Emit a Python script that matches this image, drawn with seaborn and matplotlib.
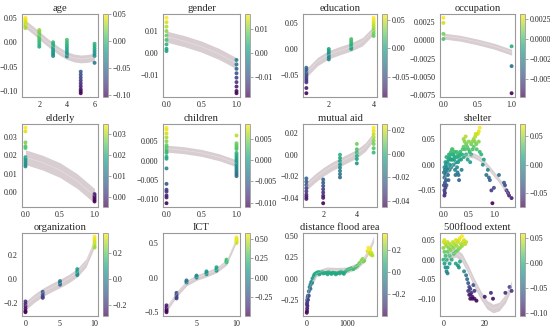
import numpy as np
import pandas as pd
import matplotlib
matplotlib.use("Agg")
import matplotlib.pyplot as plt
import seaborn as sns

# ---- data ------------------------------------------------------------------
titles = ['age', 'gender', 'education', 'occupation',
          'elderly', 'children', 'mutual aid', 'shelter',
          'organization', 'ICT', 'distance flood area', '500flood extent']

# discrete features: x value -> SHAP values seen at that x
age_pts = {1: [0.05, 0.047, 0.044, 0.041, 0.038, 0.035, 0.032, 0.029],
           2: [0.025, 0.021, 0.017, 0.013, 0.009, 0.005, 0.001, -0.004, -0.009],
           3: [0.0, -0.004, -0.008, -0.012, -0.016, -0.02, -0.024, -0.028],
           4: [0.005, 0.0, -0.005, -0.01, -0.015, -0.02, -0.025, -0.029],
           5: [-0.06, -0.066, -0.072, -0.078, -0.084, -0.09, -0.096, -0.1, -0.104],
           6: [-0.003, -0.008, -0.013, -0.018, -0.023, -0.028, -0.042]}
gender_pts = {0: [0.016, 0.014, 0.012, 0.01, 0.008, 0.006, 0.004, 0.002, 0.001],
              1: [-0.003, -0.005, -0.007, -0.009, -0.011, -0.013, -0.015, -0.017, -0.018]}
education_pts = {1: [-0.036, -0.04, -0.044, -0.048, -0.052, -0.056, -0.06, -0.064, -0.075, -0.085],
                 2: [0.0, -0.004, -0.008, -0.012, -0.016, -0.02],
                 3: [0.019, 0.015, 0.011, 0.007, 0.003, 0.0],
                 4: [0.06, 0.055, 0.05, 0.045, 0.04, 0.035, 0.03, 0.025]}
occupation_pts = {0: [0.0031, 0.0024, 0.0009, 0.0002],
                  1: [-0.0008, -0.0035, -0.0072]}
elderly_pts = {0: [0.035, 0.033, 0.027, 0.025, 0.024, 0.019, 0.018, 0.017, 0.016, 0.015, 0.014],
               1: [-0.001, -0.002, -0.003, -0.004, -0.005]}
children_pts = {0: [0.0085, 0.008, 0.007, 0.006, 0.005, 0.004, 0.0035, 0.003, 0.0025, 0.002,
                    0.001, 0.0005, -0.002, -0.006, -0.0075, -0.008, -0.009, -0.0095, -0.011],
                1: [0.0065, 0.0045, 0.004, 0.0035, 0.003, 0.002, 0.0015, 0.001, 0.0005, 0.0,
                    -0.0005, -0.001, -0.0015, -0.002, -0.0025, -0.003, -0.0035, -0.004]}
mutual_pts = {1: [-0.022, -0.025, -0.028, -0.031, -0.034, -0.037, -0.039, -0.041],
              2: [-0.023, -0.026, -0.029, -0.032, -0.035, -0.038, -0.04, -0.045],
              3: [0.0, -0.003, -0.006, -0.009, -0.012, -0.015, -0.018, -0.021],
              4: [0.01, 0.005, 0.002, -0.001, -0.004, -0.008],
              5: [0.025, 0.022, 0.019, 0.016, 0.013, 0.01, 0.006, 0.002]}
organization_pts = {0: [-0.19, -0.21, -0.23, -0.25, -0.27, -0.28],
                    2.5: [-0.11, -0.13, -0.15, -0.16],
                    5: [-0.02, -0.035, -0.05],
                    7.5: [0.08, 0.06, 0.04, 0.03],
                    10: [0.35, 0.33, 0.31, 0.29, 0.27, 0.26]}
ict_pts = {1.25: [-0.4, -0.43, -0.46, -0.48, -0.5],
           2.5: [-0.22, -0.25, -0.28, -0.3],
           3.75: [-0.04, -0.055, -0.07],
           5: [0.03, 0.015, 0.0],
           6.25: [0.09, 0.07, 0.05],
           7.5: [0.15, 0.125, 0.1],
           8.75: [0.26, 0.24, 0.22],
           10: [0.58, 0.56, 0.54, 0.52, 0.5]}

# continuous features
shelter_x = [0.02, 0.03, 0.02, 0.04, 0.01, 0.03, 0.05, 0.02, 0.04, 0.06, 0.03, 0.07, 0.05, 0.08,
             0.10, 0.09, 0.10, 0.06, 0.08, 0.12, 0.14, 0.15, 0.17, 0.18, 0.20, 0.20, 0.22, 0.23,
             0.24, 0.25, 0.26, 0.27, 0.28, 0.29, 0.30, 0.31, 0.32, 0.33, 0.12, 0.15, 0.18, 0.13,
             0.16, 0.21, 0.35, 0.37, 0.38, 0.40, 0.40, 0.42, 0.43, 0.45, 0.45, 0.47, 0.50, 0.50,
             0.52, 0.55, 0.55, 0.58, 0.60, 0.60, 0.62, 0.63, 0.65, 0.66, 0.68, 0.70, 0.72, 0.70,
             0.72, 0.75, 0.40, 0.44, 0.48, 0.53, 0.36, 0.78, 0.80, 0.85, 0.88, 0.90, 0.92, 0.95,
             0.97, 1.00, 1.10, 1.20, 1.22, 1.25, 1.28, 1.30, 1.35,
             0.01, 0.02, 0.04, 0.06, 0.11, 0.14, 0.19, 0.22, 0.26, 0.29, 0.31, 0.34, 0.57, 0.64]
shelter_y = [-0.06, -0.055, -0.05, -0.045, -0.04, -0.035, -0.03, -0.025, -0.02, -0.015, -0.01,
             -0.005, 0.0, 0.005, 0.01, -0.02, -0.03, -0.04, -0.01, 0.015, 0.02, 0.025, 0.03, 0.01,
             0.0, 0.02, 0.025, -0.01, -0.02, 0.005, 0.015, -0.005, -0.015, 0.02, -0.02, -0.03,
             0.01, 0.025, -0.01, -0.005, 0.03, 0.0, 0.01, 0.01, 0.01, 0.02, 0.03, 0.035, 0.05,
             0.045, 0.03, 0.02, 0.04, 0.035, 0.03, 0.045, 0.025, 0.04, 0.02, 0.03, 0.035, 0.05,
             0.045, 0.055, 0.04, 0.03, 0.06, 0.065, 0.072, 0.045, 0.025, 0.02, 0.015, 0.055,
             0.01, 0.005, -0.01, 0.0, 0.01, -0.02, -0.01, -0.025, -0.03, -0.05, -0.075, -0.045,
             -0.02, -0.035, -0.04, -0.05, -0.055, -0.06, -0.065,
             -0.015, -0.005, 0.005, 0.015, 0.02, 0.01, 0.02, 0.015, 0.025, 0.005, 0.015, 0.02,
             0.045, 0.06]
distance_x = [10, 15, 20, 25, 15, 20, 20, 30, 40, 60, 80, 100, 120, 150, 180, 200, 230, 260,
              300, 350, 400, 450, 500, 550, 600, 650, 700, 750, 800, 850, 900, 950, 1000, 1050,
              1100, 1150, 1200, 1250, 1300, 1350, 1380, 1400, 1420, 1500, 1520, 1550, 1580,
              1600, 1620, 1560, 60, 100, 140, 40, 320, 420, 520, 620, 720, 820, 920]
distance_y = [-0.4, -0.38, -0.35, -0.32, -0.3, -0.28, -0.25, -0.22, -0.2, -0.15, -0.1, -0.07,
              -0.04, 0.0, 0.03, 0.05, 0.06, 0.07, 0.075, 0.07, 0.075, 0.065, 0.07, 0.075, 0.06,
              0.07, 0.065, 0.06, 0.07, 0.08, 0.065, 0.08, 0.1, 0.11, 0.12, 0.11, 0.13, 0.15,
              0.18, 0.21, 0.23, 0.2, 0.21, 0.32, 0.36, 0.3, 0.28, 0.3, 0.27, 0.34, -0.2, -0.12,
              -0.05, -0.25, 0.05, 0.06, 0.05, 0.055, 0.05, 0.06, 0.055]
flood_x = [0, 0, 0.5, 0.5, 1, 1, 1, 1.5, 1.5, 2, 2, 2, 2.5, 3, 3, 3, 3.5, 4, 4, 4.5, 5, 5, 5.5,
           6, 6, 6.5, 7, 7, 7.5, 8, 8, 8.5, 9, 9, 9.5, 10, 10.5, 11, 0.2, 0.5, 1.5, 2, 7, 7.5,
           8, 6, 10, 11, 11.5, 12, 12, 12.5, 13, 13, 13.5, 14, 14, 15, 16, 13, 12.5, 20, 23,
           24, 30, 32, 33, 14.5, 15]
flood_y = [0.0, 0.03, 0.02, -0.01, 0.04, 0.01, -0.02, -0.03, 0.035, 0.045, 0.02, -0.035, 0.03,
           0.04, 0.01, -0.01, 0.025, 0.035, 0.0, 0.045, 0.03, 0.015, 0.04, 0.05, 0.02, 0.035,
           0.045, 0.025, 0.05, 0.055, 0.03, 0.04, 0.06, 0.035, 0.045, 0.05, 0.04, 0.045, 0.045,
           0.05, 0.0, -0.02, -0.015, -0.02, -0.005, -0.01, -0.03, -0.04, -0.05, -0.06, -0.08,
           -0.09, -0.075, -0.1, -0.085, -0.095, -0.1, -0.1, -0.105, -0.09, -0.07, -0.095,
           -0.085, -0.1, -0.085, -0.07, -0.08, -0.065, -0.08]

# confidence band of the fitted trend: centre values and half width
band_x = [[1, 1.5, 2, 2.5, 3, 3.5, 4, 4.5, 5, 5.5, 6],
          [0, 0.25, 0.5, 0.75, 1],
          [1, 1.5, 2, 2.5, 3, 3.5, 4],
          [0, 0.25, 0.5, 0.75, 1],
          [0, 0.25, 0.5, 0.75, 1],
          [0, 0.25, 0.5, 0.75, 1],
          [1, 1.5, 2, 2.5, 3, 3.5, 4, 4.5, 5],
          [0.0, 0.1, 0.2, 0.3, 0.4, 0.5, 0.6, 0.7, 0.8, 0.9, 1.0, 1.1, 1.2, 1.3],
          [0, 1.25, 2.5, 3.75, 5, 6.25, 7.5, 8.75, 10],
          [1.25, 2.5, 3.75, 5, 6.25, 7.5, 8.75, 10],
          [0, 100, 250, 500, 750, 1000, 1250, 1400, 1500, 1650],
          [0, 3, 6, 9, 12, 15, 18, 21, 24, 27, 30, 33]]
band_y = [[0.037, 0.026, 0.014, 0.002, -0.009, -0.019, -0.027, -0.032, -0.034, -0.033, -0.03],
          [0.0075, 0.0055, 0.003, -0.0003, -0.0045],
          [-0.046, -0.024, -0.011, -0.003, 0.004, 0.014, 0.036],
          [0.0006, 0.0003, -0.0002, -0.0008, -0.0016],
          [0.019, 0.016, 0.012, 0.006, -0.002],
          [0.0031, 0.0027, 0.002, 0.0009, -0.0007],
          [-0.029, -0.022, -0.016, -0.011, -0.007, -0.003, 0.001, 0.007, 0.017],
          [-0.03, -0.012, 0.002, 0.012, 0.018, 0.02, 0.018, 0.013, 0.005, -0.006, -0.018,
           -0.03, -0.044, -0.058],
          [-0.225, -0.165, -0.115, -0.075, -0.04, 0.0, 0.05, 0.13, 0.3],
          [-0.45, -0.24, -0.08, 0.0, 0.05, 0.11, 0.22, 0.55],
          [-0.25, -0.08, 0.06, 0.1, 0.095, 0.1, 0.15, 0.22, 0.3, 0.46],
          [-0.005, 0.012, 0.018, 0.005, -0.025, -0.06, -0.09, -0.115, -0.125, -0.12, -0.1, -0.065]]
band_w = [0.008, 0.0025, 0.008, 0.0004, 0.004, 0.0009, 0.004, 0.005, 0.035, 0.04, 0.035, 0.011]

y_ticks = [[-0.10, -0.05, 0.0, 0.05], [-0.01, 0.0, 0.01], [-0.05, 0.0, 0.05],
           [-0.0075, -0.005, -0.0025, 0.0, 0.0025], [0.0, 0.01, 0.02, 0.03],
           [-0.01, -0.005, 0.0, 0.005], [-0.04, -0.02, 0.0, 0.02], [-0.05, 0.0, 0.05],
           [-0.2, 0.0, 0.2], [-0.5, 0.0, 0.5], [-0.25, 0.0, 0.25, 0.5], [-0.1, -0.05, 0.0, 0.05]]
y_fmt = ['%.2f', '%.2f', '%.2f', '%.4f', '%.2f', '%.3f', '%.2f', '%.2f', '%.1f', '%.1f', '%.2f', '%.2f']
x_ticks = [[2, 4, 6], [0.0, 0.5, 1.0], [2, 4], [0.0, 0.5, 1.0], [0.0, 0.5, 1.0], [0.0, 0.5, 1.0],
           [2, 4], [0.0, 0.5, 1.0], [0, 5, 10], [5, 10], [0, 1000], [0, 20]]
x_fmt = ['%d', '%.1f', '%d', '%.1f', '%.1f', '%.1f', '%d', '%.1f', '%d', '%d', '%d', '%d']
cb_ticks = [[-0.10, -0.05, 0.0, 0.05], [-0.01, 0.0, 0.01], [-0.05, 0.0, 0.05],
            [-0.005, -0.0025, 0.0, 0.0025], [0.0, 0.01, 0.02, 0.03], [-0.01, -0.005, 0.0, 0.005],
            [-0.04, -0.02, 0.0, 0.02], [-0.05, 0.0, 0.05], [-0.2, 0.0, 0.2],
            [-0.25, 0.0, 0.25, 0.5], [-0.2, 0.0, 0.2], [-0.1, -0.05, 0.0, 0.05]]
cb_fmt = ['%.2f', '%.2f', '%.2f', '%.4f', '%.2f', '%.3f', '%.2f', '%.2f', '%.1f', '%.2f', '%.1f', '%.2f']


def expand(groups):
    xs, ys = [], []
    for xv, yl in groups.items():
        xs += [xv] * len(yl)
        ys += yl
    return xs, ys


def minus(s):
    return s.replace('-', '\u2212')


panels = [expand(age_pts), expand(gender_pts), expand(education_pts), expand(occupation_pts),
          expand(elderly_pts), expand(children_pts), expand(mutual_pts), (shelter_x, shelter_y),
          expand(organization_pts), expand(ict_pts), (distance_x, distance_y), (flood_x, flood_y)]

# ---- style -------------------------------------------------------------------
sns.set_theme(style="white")
plt.rcParams.update({
    'font.family': ['Liberation Serif', 'DejaVu Serif'],
    'axes.edgecolor': '#999999',
    'axes.linewidth': 0.8,
    'xtick.labelsize': 5.8,
    'ytick.labelsize': 5.8,
})

fig = plt.figure(figsize=(5.5, 3.34), dpi=100)
W, H = 550.0, 334.0
col_left = [22, 163, 303, 440]
col_w = [76, 77, 74, 75]
row_top = [14, 124, 233]
row_h = 83

for i, (xs, ys) in enumerate(panels):
    r, c = divmod(i, 4)
    left, top = col_left[c], row_top[r]
    ax = fig.add_axes([left / W, 1 - (top + row_h) / H, col_w[c] / W, row_h / H])
    cax = fig.add_axes([(left + col_w[c] + 5) / W, 1 - (top + row_h) / H, 5 / W, row_h / H])

    df = pd.DataFrame({'x': xs, 'y': ys})
    vmin, vmax = min(ys), max(ys)

    bx = np.array(band_x[i])
    by = np.array(band_y[i])
    ax.fill_between(bx, by - band_w[i], by + band_w[i], color='#d8cdd1',
                    linewidth=0, zorder=1)

    sns.scatterplot(data=df, x='x', y='y', hue='y', palette='viridis', hue_norm=(vmin, vmax),
                    s=8, linewidth=0, alpha=0.9, legend=False, ax=ax, zorder=2)
    ax.plot(bx, by, color='white', lw=0.6, alpha=0.3, zorder=3)

    ax.set_title(titles[i], fontsize=7.6, pad=2)
    ax.set_xlabel('')
    ax.set_ylabel('')
    ax.set_yticks(y_ticks[i])
    ax.set_yticklabels([minus(y_fmt[i] % v) for v in y_ticks[i]])
    ax.set_xticks(x_ticks[i])
    ax.set_xticklabels([x_fmt[i] % v for v in x_ticks[i]])
    ax.tick_params(axis='both', length=2, width=0.6, color='#999999', pad=1.2)
    pad = (vmax - vmin) * 0.05
    ylo = min(vmin, by.min() - band_w[i]) - pad
    yhi = max(vmax, by.max() + band_w[i]) + pad
    ax.set_ylim(ylo, yhi)

    sm = plt.cm.ScalarMappable(cmap='viridis', norm=plt.Normalize(vmin, vmax))
    cb = fig.colorbar(sm, cax=cax, alpha=0.7)
    cb.outline.set_edgecolor('#999999')
    cb.outline.set_linewidth(0.6)
    cb.set_ticks(cb_ticks[i])
    cb.set_ticklabels([minus(cb_fmt[i] % v) for v in cb_ticks[i]])
    cax.tick_params(length=2, width=0.6, color='#999999', pad=1.2, labelsize=5.8)

fig.savefig('out.png', dpi=100)
